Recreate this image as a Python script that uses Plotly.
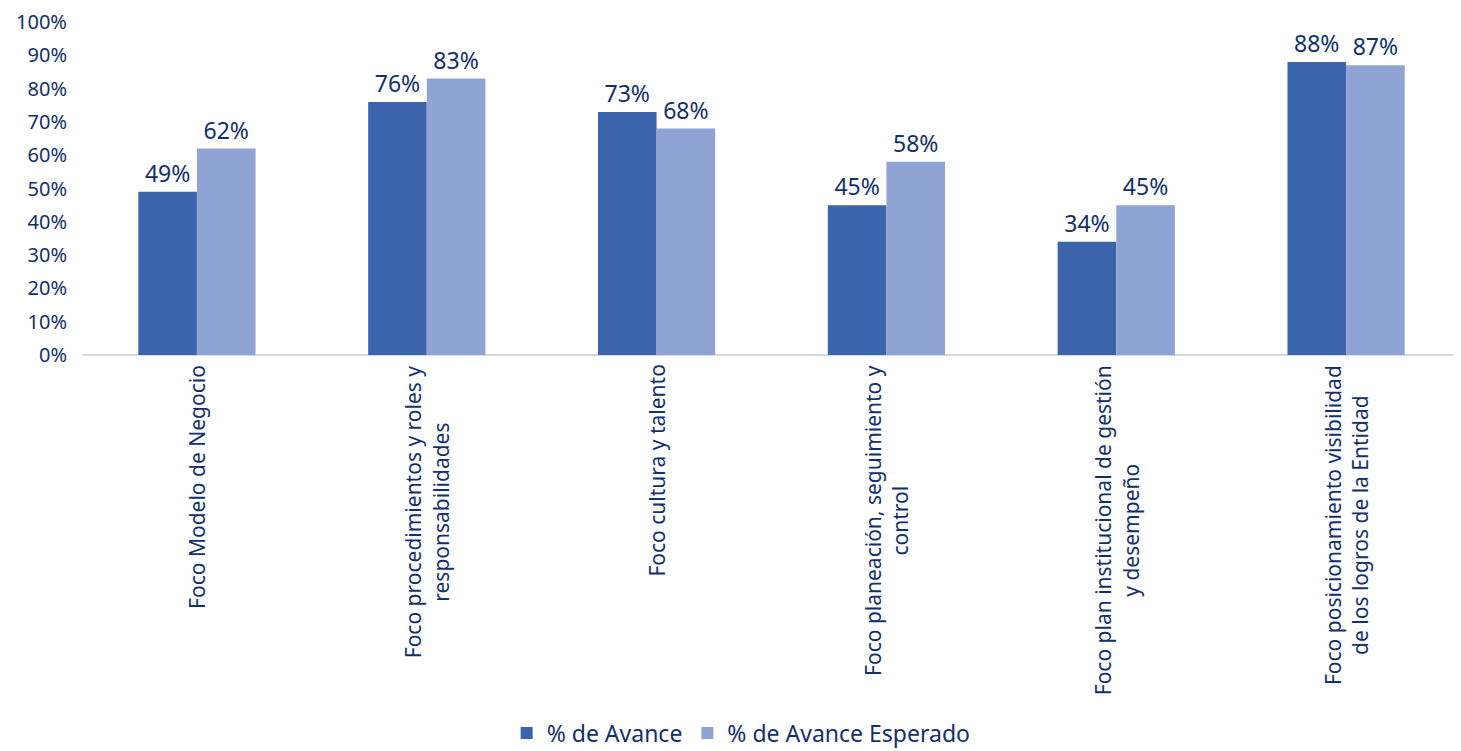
import plotly.graph_objects as go

categories = [
    "Foco Modelo de Negocio",
    "Foco procedimientos y roles y<br>responsabilidades",
    "Foco cultura y talento",
    "Foco planeación, seguimiento y<br>control",
    "Foco plan institucional de gestión<br>y desempeño",
    "Foco posicionamiento visibilidad<br>de los logros de la Entidad",
]
avance = [49, 76, 73, 45, 34, 88]
avance_esperado = [62, 83, 68, 58, 45, 87]
ytick_vals = [0, 10, 20, 30, 40, 50, 60, 70, 80, 90, 100]
ytick_text = ["0%", "10%", "20%", "30%", "40%", "50%", "60%", "70%", "80%", "90%", "100%"]

TEXT = "#12306E"
FONT = "Noto Sans"
x_idx = list(range(len(categories)))

fig = go.Figure()
fig.add_trace(go.Bar(
    x=x_idx, y=avance, name="% de Avance",
    marker=dict(color="#3C64AC", line=dict(width=0)),
    text=[f"{v}%" for v in avance], textposition="outside",
    textfont=dict(size=23, color=TEXT, family=FONT), cliponaxis=False,
))
fig.add_trace(go.Bar(
    x=x_idx, y=avance_esperado, name="% de Avance Esperado",
    marker=dict(color="#8FA3D4", line=dict(width=0)),
    text=[f"{v}%" for v in avance_esperado], textposition="outside",
    textfont=dict(size=23, color=TEXT, family=FONT), cliponaxis=False,
))

for i, c in enumerate(categories):
    fig.add_annotation(
        x=i, y=0, xref="x", yref="y", text=c, showarrow=False,
        textangle=-90, xanchor="center", yanchor="top", align="center",
        yshift=-8, font=dict(size=21, color=TEXT, family=FONT),
    )

fig.update_layout(
    width=1453, height=743,
    margin=dict(l=74, r=0, t=14, b=396, autoexpand=False),
    paper_bgcolor="white", plot_bgcolor="white",
    barmode="group", bargap=0.49, bargroupgap=0,
    font=dict(family=FONT, color=TEXT, size=20),
    showlegend=True,
    legend=dict(orientation="h", x=0.478, xanchor="center", y=-1.135, yanchor="middle",
                font=dict(size=23, color=TEXT, family=FONT), itemwidth=30,
                traceorder="normal"),
)
fig.update_xaxes(
    range=[-0.5, len(categories) - 0.5], showticklabels=False, showgrid=False,
    zeroline=False, showline=False, ticks="", automargin=False,
)
fig.update_yaxes(
    range=[0, 100], tickvals=ytick_vals, ticktext=ytick_text, showgrid=False,
    zeroline=True, zerolinecolor="#D9D9D9", zerolinewidth=2, showline=False,
    tickfont=dict(size=20, color=TEXT, family=FONT), ticklabelstandoff=14,
    automargin=False,
)
fig.write_html("out.html")
